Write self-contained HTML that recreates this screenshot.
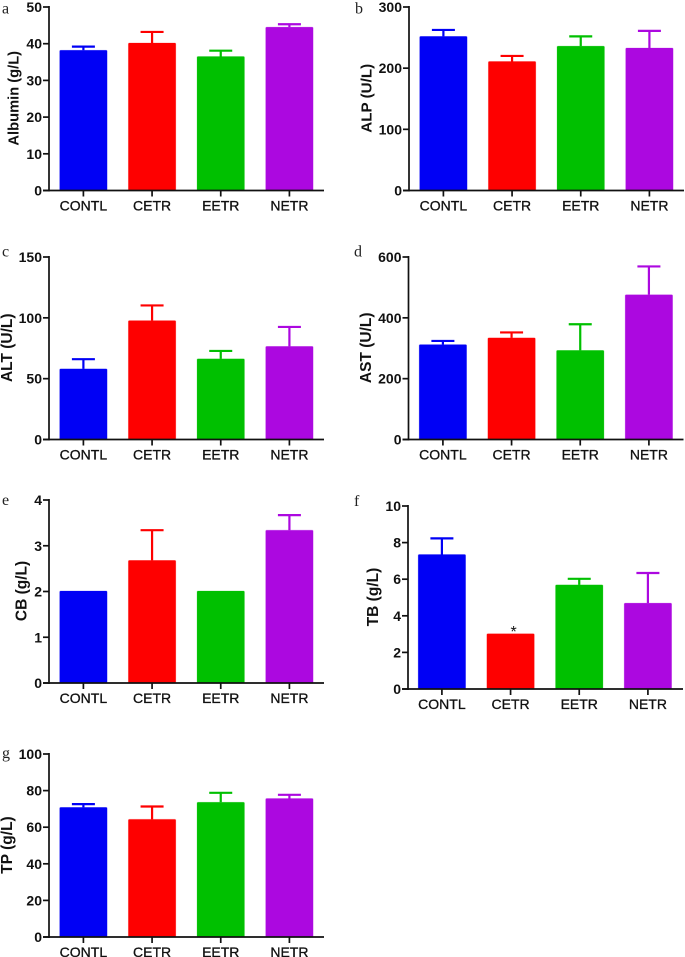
<!DOCTYPE html>
<html lang="en">
<head>
<meta charset="utf-8">
<title>Serum biochemistry bar charts</title>
<style>
html,body{margin:0;padding:0;background:#fff;width:685px;height:957px;overflow:hidden}
svg{display:block}
text{font-family:"Liberation Sans",Arial,sans-serif;fill:#111}
.tick{font-size:14px;font-weight:bold;stroke:none}
.cat{font-size:14px;stroke:#111;stroke-width:.3px}
.title{font-weight:bold}
.letter{font-family:"Liberation Serif",serif;font-size:16px;fill:#222}
</style>
</head>
<body>
<svg id="chart" xmlns="http://www.w3.org/2000/svg" width="685" height="957" viewBox="0 0 685 957"></svg>
<script>
const categories = ['CONTL', 'CETR', 'EETR', 'NETR'];
const barColors = ['#0000f5', '#fe0000', '#00c000', '#ac08e0'];

const albuminMeans = [38.2, 40.2, 36.5, 44.5];
const albuminErrors = [1, 3, 1.6, 0.8];
const albuminTicks = [0, 10, 20, 30, 40, 50];

const alpMeans = [252, 211, 236, 233];
const alpErrors = [10.5, 9, 16, 28];
const alpTicks = [0, 100, 200, 300];

const altMeans = [58, 97.7, 66.3, 76.5];
const altErrors = [8, 12.5, 6.5, 16];
const altTicks = [0, 50, 100, 150];

const astMeans = [312, 334, 293, 476];
const astErrors = [12, 18, 86, 93];
const astTicks = [0, 200, 400, 600];

const cbMeans = [2.01, 2.68, 2.01, 3.34];
const cbErrors = [0, 0.66, 0, 0.33];
const cbTicks = [0, 1, 2, 3, 4];

const tbMeans = [7.35, 3.02, 5.69, 4.69];
const tbErrors = [0.88, 0, 0.33, 1.65];
const tbTicks = [0, 2, 4, 6, 8, 10];

const tpMeans = [70.8, 64.3, 73.6, 75.7];
const tpErrors = [1.8, 7, 5.2, 2];
const tpTicks = [0, 20, 40, 60, 80, 100];

const panels = [
  {id:'albumin', letter:'a', lx:2, ly:13.5, title:'Albumin (g/L)', titleX:18.5, titleSize:14.7, means:albuminMeans, errors:albuminErrors, ticks:albuminTicks, ax:49, top:7, bottom:190.5, offset:0},
  {id:'alp', letter:'b', lx:355, ly:13.5, title:'ALP (U/L)', titleX:371.5, titleSize:15.2, means:alpMeans, errors:alpErrors, ticks:alpTicks, ax:409, top:7, bottom:190.5, offset:360},
  {id:'alt', letter:'c', lx:2, ly:256.5, title:'ALT (U/L)', titleX:12, titleSize:15.5, means:altMeans, errors:altErrors, ticks:altTicks, ax:49, top:257, bottom:439.5, offset:0},
  {id:'ast', letter:'d', lx:354, ly:256.5, title:'AST (U/L)', titleX:371, titleSize:15.5, means:astMeans, errors:astErrors, ticks:astTicks, ax:408.5, top:257, bottom:439.5, offset:359.5},
  {id:'cb', letter:'e', lx:2, ly:505, title:'CB (g/L)', titleX:26.7, titleSize:15.5, means:cbMeans, errors:cbErrors, ticks:cbTicks, ax:49, top:500, bottom:683, offset:0},
  {id:'tb', letter:'f', lx:354, ly:506, title:'TB (g/L)', titleX:378, titleSize:15.5, means:tbMeans, errors:tbErrors, ticks:tbTicks, ax:408, top:506, bottom:689, offset:358.5},
  {id:'tp', letter:'g', lx:2, ly:758, title:'TP (g/L)', titleX:12, titleSize:15.5, means:tpMeans, errors:tpErrors, ticks:tpTicks, ax:49, top:754, bottom:937, offset:0}
];

const NS = 'http://www.w3.org/2000/svg';
const svg = document.getElementById('chart');

function make(parent, tag, attrs, text) {
  const el = document.createElementNS(NS, tag);
  for (const k in attrs) el.setAttribute(k, attrs[k]);
  if (text !== undefined) el.textContent = text;
  parent.appendChild(el);
  return el;
}

function yScale(p, v) {
  const max = p.ticks[p.ticks.length - 1];
  return p.bottom - (v / max) * (p.bottom - p.top);
}

function xCenter(p, i) {
  return 83.4 + p.offset + i * 68.67;
}

panels.forEach(function (p) {
  const g = make(svg, 'g', {});
  
  

  const letter = make(g, 'text', {x:p.lx, y:p.ly, class:'letter'}, p.letter);
  
  

  p.means.forEach(function (m, i) {
    const cx = xCenter(p, i);
    const yTop = yScale(p, m);
    const color = barColors[i];
    const err = p.errors[i];
    if (err > 0) {
      const yErr = yScale(p, m + err);
      const errBar = make(g, 'path', {d:'M' + cx + ' ' + yTop + 'V' + yErr + 'M' + (cx - 11.5) + ' ' + yErr + 'H' + (cx + 11.5), stroke:color, 'stroke-width':2.2, fill:'none'});
      
      
    }
    const bar = make(g, 'rect', {x:cx - 23.7, y:yTop, width:47.4, height:p.bottom - yTop, fill:color, stroke:color, 'stroke-opacity':0.3, 'stroke-width':0.8, rx:1});
    
    
  });

  const axisRight = p.ax + 275;
  const yAxis = make(g, 'line', {x1:p.ax, x2:p.ax, y1:p.top - 1, y2:p.bottom + 1, stroke:'#111', 'stroke-width':1.7});
  
  
  const xAxis = make(g, 'line', {x1:p.ax - 6, x2:axisRight, y1:p.bottom, y2:p.bottom, stroke:'#111', 'stroke-width':1.7});
  
  

  p.ticks.forEach(function (t) {
    const y = yScale(p, t);
    const tick = make(g, 'line', {x1:p.ax - 6, x2:p.ax, y1:y, y2:y, stroke:'#111', 'stroke-width':1.7});
    
    
    const lab = make(g, 'text', {x:p.ax - 7, y:y + 5, 'text-anchor':'end', class:'tick'}, t);
    
    
  });

  categories.forEach(function (c, i) {
    const cx = xCenter(p, i);
    const tick = make(g, 'line', {x1:cx, x2:cx, y1:p.bottom, y2:p.bottom + 6, stroke:'#111', 'stroke-width':1.7});
    
    
    const lab = make(g, 'text', {x:cx, y:p.bottom + 20, 'text-anchor':'middle', class:'cat'}, c);
    
    
  });

  const midY = (p.top + p.bottom) / 2 - 0.5;
  const title = make(g, 'text', {x:p.titleX, y:midY, 'text-anchor':'middle', class:'title', 'font-size':p.titleSize, transform:'rotate(-90 ' + p.titleX + ' ' + midY + ')'}, p.title);
  
  

  if (p.id === 'tb') {
    const star = make(g, 'text', {x:xCenter(p, 1) + 3, y:yScale(p, p.means[1]) + 3.5, 'text-anchor':'middle', 'font-size':16}, '*');
    
    
  }
});
</script>
</body>
</html>
